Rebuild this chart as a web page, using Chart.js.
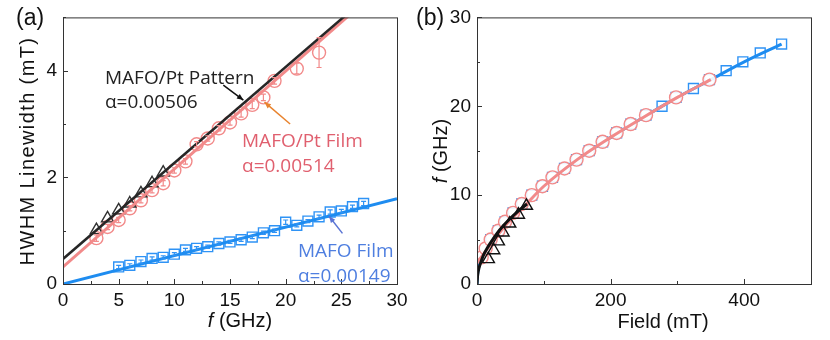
<!DOCTYPE html>
<html>
<head>
<meta charset="utf-8">
<script src="https://cdn.jsdelivr.net/npm/chart.js@4.4.1/dist/chart.umd.min.js"></script>
<style>
  body { margin: 0; background: #fff; width: 830px; height: 340px; overflow: hidden; position: relative; }
  .panel { position: absolute; top: 0; width: 415px; height: 340px; }
  #wrapA { left: 0; }
  #wrapB { left: 415px; }
</style>
</head>
<body>
<div class="panel" id="wrapA"><canvas id="chartA" width="415" height="340"></canvas></div>
<div class="panel" id="wrapB"><canvas id="chartB" width="415" height="340"></canvas></div>
<script>
// ---- panel (a): HWHM linewidth vs frequency ----
const patFreq  = [3, 4, 5, 6, 7, 8, 9];
const patWidth = [1.01, 1.23, 1.38, 1.51, 1.70, 1.89, 2.09];

const ptFreq  = [3, 4, 5, 6, 7, 8, 9, 10, 11, 12, 13, 14, 15, 16, 17, 18, 19, 21, 23];
const ptWidth = [0.86, 1.07, 1.20, 1.42, 1.57, 1.76, 1.89, 2.13, 2.30, 2.62, 2.73, 2.92, 3.03, 3.20, 3.36, 3.50, 3.81, 4.04, 4.34];
const ptErr   = [0.06, 0.05, 0.05, 0.05, 0.05, 0.05, 0.05, 0.05, 0.05, 0.05, 0.05, 0.05, 0.05, 0.07, 0.07, 0.06, 0.06, 0.10, 0.28];

const filmFreq  = [5, 6, 7, 8, 9, 10, 11, 12, 13, 14, 15, 16, 17, 18, 19, 20, 21, 22, 23, 24, 25, 26, 27];
const filmWidth = [0.32, 0.35, 0.42, 0.48, 0.50, 0.56, 0.64, 0.67, 0.70, 0.76, 0.79, 0.83, 0.88, 0.96, 1.00, 1.16, 1.10, 1.18, 1.26, 1.35, 1.37, 1.45, 1.51];
const filmErr   = [0.03, 0.03, 0.03, 0.03, 0.03, 0.03, 0.03, 0.03, 0.03, 0.03, 0.03, 0.03, 0.03, 0.03, 0.03, 0.04, 0.03, 0.03, 0.03, 0.04, 0.03, 0.03, 0.04];

const fitFreq = [0, 30];
const patFit  = [0.47, 5.87];
const ptFit   = [0.32, 5.83];
const filmFit = [0, 1.6];

// ---- panel (b): frequency vs field ----
const patField = [17, 25, 32, 39, 49, 62, 74];
const patF     = [2.8, 3.8, 4.8, 5.8, 6.8, 7.8, 8.8];

const ptField = [7, 13, 20.5, 32, 42, 54, 67, 82, 98, 113, 131, 149, 168, 188, 209, 230, 253, 298, 348];
const ptF     = [3, 4, 5, 6, 7, 8, 9, 10, 11, 12, 13, 14, 15, 16, 17, 18, 19, 21, 23];

const filmField = [20.5, 32, 42, 54, 67, 82, 98, 113, 131, 149, 168, 188, 209, 230, 253, 277, 298, 324, 348, 373, 398, 424, 456];
const filmF     = [5, 6, 7, 8, 9, 10, 11, 12, 13, 14, 15, 16, 17, 18, 19, 20, 21, 22, 23, 24, 25, 26, 27];

const patFitField = [0, 1, 3, 6, 10, 15, 20, 30, 40, 50, 60, 75];
const patFitF     = [0, 1.0, 1.8, 2.5, 3.3, 4.0, 4.6, 5.7, 6.6, 7.4, 8.1, 9.0];
const ptFitField  = [0, 5, 10, 20, 30, 45, 70, 100, 150, 200, 250, 300, 350];
const ptFitF      = [2.5, 2.9, 3.4, 4.4, 5.4, 6.8, 8.7, 11, 14, 16.5, 18.8, 21, 23];
const filmFitField = [0, 1, 3, 6, 10, 20, 30, 45, 70, 100, 150, 200, 250, 300, 350, 400, 456];
const filmFitF     = [0, 1.2, 2.0, 2.7, 3.4, 4.5, 5.4, 6.8, 8.7, 11, 14, 16.5, 18.8, 21, 23, 25, 27];

const BLACK = '#262626';
const PINK = '#f28a8a';
const BLUE = '#1e8cf0';
const PINK_TEXT = '#e0606f';
const BLUE_TEXT = '#4f7fe0';
const ORANGE = '#e8832e';
const FONT = '"Liberation Sans", Arial, sans-serif';
const NOTE_FONT = '"Open Sans", sans-serif';

const pts = (xs, ys) => xs.map((x, i) => ({ x, y: ys[i] }));

// frame, inward ticks, axis titles, error bars, notes
const decor = {
  id: 'decor',
  afterDatasetsDraw(chart, args, opts) {
    const { ctx, scales } = chart;
    ctx.save();
    // error bars
    (opts.errors || []).forEach(e => {
      ctx.strokeStyle = e.color;
      ctx.lineWidth = 1.2;
      e.xs.forEach((xv, i) => {
        const px = scales.x.getPixelForValue(xv);
        const y1 = scales.y.getPixelForValue(e.ys[i] - e.err[i]);
        const y2 = scales.y.getPixelForValue(e.ys[i] + e.err[i]);
        ctx.beginPath();
        ctx.moveTo(px, y1); ctx.lineTo(px, y2);
        ctx.moveTo(px - 2.5, y1); ctx.lineTo(px + 2.5, y1);
        ctx.moveTo(px - 2.5, y2); ctx.lineTo(px + 2.5, y2);
        ctx.stroke();
      });
    });
    ctx.restore();
  },
  afterDraw(chart, args, opts) {
    const { ctx, chartArea: a, scales } = chart;
    ctx.save();
    ctx.strokeStyle = '#333';
    ctx.lineWidth = 1;
    ctx.strokeRect(a.left + 0.5, a.top + 0.5, a.right - a.left, a.bottom - a.top);
    // inward ticks
    scales.x.ticks.forEach(t => {
      const px = Math.round(scales.x.getPixelForValue(t.value)) + 0.5;
      const len = t.label !== '' ? 5 : 3;
      ctx.beginPath(); ctx.moveTo(px, a.bottom); ctx.lineTo(px, a.bottom - len); ctx.stroke();
    });
    scales.y.ticks.forEach(t => {
      const py = Math.round(scales.y.getPixelForValue(t.value)) + 0.5;
      const len = t.label !== '' ? 5 : 3;
      ctx.beginPath(); ctx.moveTo(a.left, py); ctx.lineTo(a.left + len, py); ctx.stroke();
    });
    // axis titles
    ctx.fillStyle = '#111';
    ctx.textBaseline = 'middle';
    const drawTitle = (parts, x, y, rot) => {
      ctx.save();
      ctx.translate(x, y);
      if (rot) ctx.rotate(-Math.PI / 2);
      let total = 0;
      parts.forEach(p => {
        ctx.font = p.font;
        ctx.letterSpacing = p.spacing || '0px';
        total += ctx.measureText(p.text).width;
      });
      let cx = -total / 2;
      ctx.textAlign = 'left';
      parts.forEach(p => {
        ctx.font = p.font;
        ctx.letterSpacing = p.spacing || '0px';
        ctx.fillText(p.text, cx, 0);
        cx += ctx.measureText(p.text).width;
      });
      ctx.letterSpacing = '0px';
      ctx.restore();
    };
    opts.titles.forEach(t => drawTitle(t.parts, t.x, t.y, t.rot));
    // panel label
    ctx.font = '23px ' + FONT;
    ctx.textAlign = 'left';
    ctx.textBaseline = 'alphabetic';
    ctx.fillText(opts.panel.text, opts.panel.x, opts.panel.y);
    // notes and arrows, anchored in data space
    (opts.notes || []).forEach(n => {
      ctx.font = '19px ' + NOTE_FONT;
      ctx.fillStyle = n.color;
      ctx.fillText(n.text, scales.x.getPixelForValue(n.x), scales.y.getPixelForValue(n.y));
    });
    (opts.arrows || []).forEach(r => {
      const x1 = scales.x.getPixelForValue(r.from[0]), y1 = scales.y.getPixelForValue(r.from[1]);
      const x2 = scales.x.getPixelForValue(r.to[0]), y2 = scales.y.getPixelForValue(r.to[1]);
      const ang = Math.atan2(y2 - y1, x2 - x1);
      ctx.strokeStyle = r.color; ctx.fillStyle = r.color; ctx.lineWidth = 1.5;
      ctx.beginPath(); ctx.moveTo(x1, y1); ctx.lineTo(x2, y2); ctx.stroke();
      ctx.beginPath();
      ctx.moveTo(x2, y2);
      ctx.lineTo(x2 - 7 * Math.cos(ang - 0.4), y2 - 7 * Math.sin(ang - 0.4));
      ctx.lineTo(x2 - 7 * Math.cos(ang + 0.4), y2 - 7 * Math.sin(ang + 0.4));
      ctx.closePath(); ctx.fill();
    });
    ctx.restore();
  }
};

function axis(min, max, step, every, fit, pad) {
  return {
    type: 'linear', min, max,
    grid: { display: false, drawTicks: false },
    border: { display: false },
    ticks: {
      stepSize: step, autoSkip: false, maxRotation: 0, includeBounds: false, padding: pad,
      color: '#111', font: { family: FONT, size: 19 },
      callback: v => (Math.abs(v / every - Math.round(v / every)) < 1e-6 ? String(v) : '')
    },
    afterFit: fit
  };
}

const lineDs = (data, color, w) => ({
  type: 'line', data, borderColor: color, borderWidth: w, pointRadius: 0,
  fill: false, tension: 0.35, cubicInterpolationMode: 'monotone'
});
const markDs = (data, color, style, r, fillCol) => ({
  type: 'scatter', data, borderColor: color, backgroundColor: fillCol || 'rgba(255,255,255,0)',
  pointStyle: style, pointRadius: r, pointBorderWidth: 1.4, showLine: false
});

new Chart(document.getElementById('chartA'), {
  type: 'scatter',
  data: {
    datasets: [
      lineDs(pts(fitFreq, patFit), BLACK, 2.5),
      lineDs(pts(fitFreq, ptFit), PINK, 3),
      lineDs(pts(fitFreq, filmFit), BLUE, 3),
      markDs(pts(patFreq, patWidth), '#333', 'triangle', 7),
      markDs(pts(ptFreq, ptWidth), PINK, 'circle', 6.5),
      markDs(pts(filmFreq, filmWidth), '#2f93f5', 'rect', 7)
    ]
  },
  options: {
    responsive: false, animation: false,
    layout: { padding: { left: 0, top: 17, right: 18, bottom: 0 } },
    plugins: {
      legend: { display: false }, tooltip: { enabled: false },
      decor: {
        panel: { text: '(a)', x: 16, y: 25 },
        titles: [
          { parts: [{ text: 'f', font: 'italic 20px ' + FONT }, { text: ' (GHz)', font: '20px ' + FONT }], x: 240, y: 321 },
          { parts: [{ text: 'HWHM Linewidth (mT)', font: '20px ' + FONT, spacing: '1.4px' }], x: 28, y: 151, rot: true }
        ],
        errors: [
          { xs: ptFreq, ys: ptWidth, err: ptErr, color: PINK },
          { xs: filmFreq, ys: filmWidth, err: filmErr, color: '#2f93f5' }
        ],
        notes: [
          { text: 'MAFO/Pt Pattern', x: 3.77, y: 3.745, color: '#222' },
          { text: 'α=0.00506', x: 3.77, y: 3.30, color: '#222' },
          { text: 'MAFO/Pt Film', x: 16.08, y: 2.57, color: PINK_TEXT },
          { text: 'α=0.00514', x: 16.08, y: 2.10, color: PINK_TEXT },
          { text: 'MAFO Film', x: 21.1, y: 0.51, color: BLUE_TEXT },
          { text: 'α=0.00149', x: 21.1, y: 0.04, color: BLUE_TEXT }
        ],
        arrows: [
          { from: [14.4, 3.73], to: [16.2, 3.45], color: '#111' },
          { from: [20.4, 3.0], to: [18.1, 3.41], color: ORANGE },
          { from: [25.1, 0.95], to: [23.9, 1.27], color: '#5a74d4' }
        ]
      }
    },
    scales: {
      x: axis(0, 30, 2.5, 5, s => { s.height = 56; }, 5),
      y: axis(0, 5, 1, 2, s => { s.width = 63; }, 6)
    }
  },
  plugins: [decor]
});

new Chart(document.getElementById('chartB'), {
  type: 'scatter',
  data: {
    datasets: [
      lineDs(pts(patFitField, patFitF), '#111', 3),
      markDs(pts(patField, patF), '#111', 'triangle', 7),
      lineDs(pts(ptFitField, ptFitF), PINK, 3),
      markDs(pts(ptField, ptF), PINK, 'circle', 6.5, 'rgba(255,255,255,0.9)'),
      lineDs(pts(filmFitField, filmFitF), BLUE, 3),
      markDs(pts(filmField, filmF), '#2f93f5', 'rect', 7)
    ]
  },
  options: {
    responsive: false, animation: false,
    layout: { padding: { left: 0, top: 17, right: 19, bottom: 0 } },
    plugins: {
      legend: { display: false }, tooltip: { enabled: false },
      decor: {
        panel: { text: '(b)', x: 1, y: 25 },
        titles: [
          { parts: [{ text: 'Field (mT)', font: '20px ' + FONT }], x: 248, y: 322 },
          { parts: [{ text: 'f', font: 'italic 20px ' + FONT }, { text: ' (GHz)', font: '20px ' + FONT }], x: 26, y: 151, rot: true }
        ]
      }
    },
    scales: {
      x: axis(0, 500, 100, 200, s => { s.height = 56; }, 5),
      y: axis(0, 30, 5, 10, s => { s.width = 62; }, 6)
    }
  },
  plugins: [decor]
});
</script>
</body>
</html>
